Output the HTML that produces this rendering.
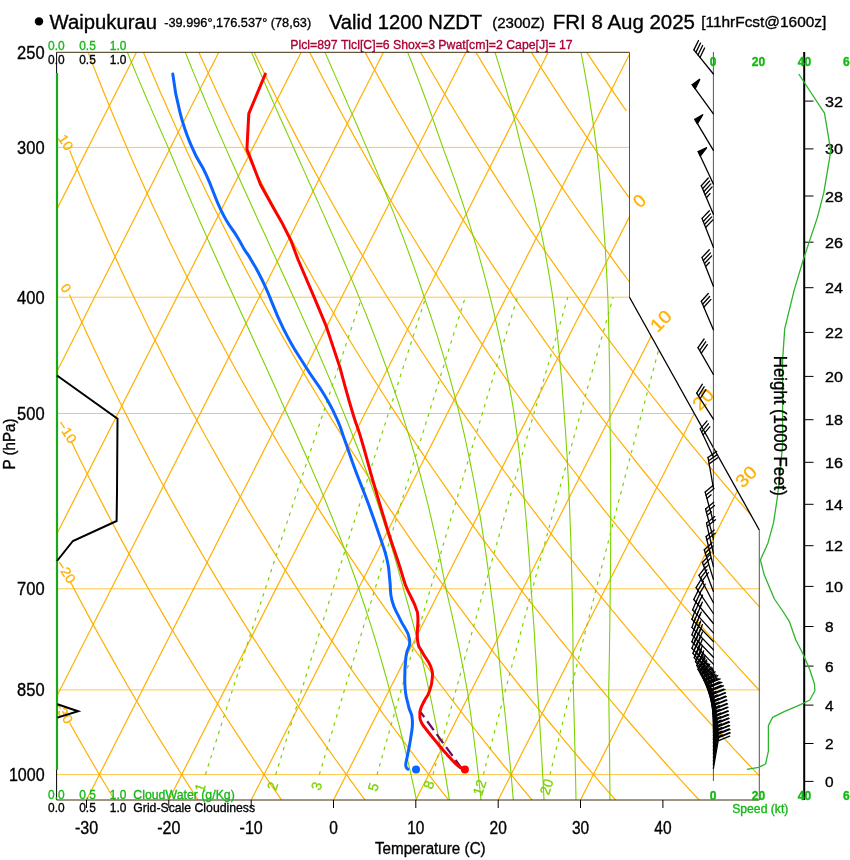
<!DOCTYPE html>
<html><head><meta charset="utf-8"><style>
html,body{margin:0;padding:0;background:#fff;}
svg{display:block;}
text{font-family:"Liberation Sans",sans-serif;}
svg{will-change:transform;}
</style></head><body>
<svg width="850" height="860" viewBox="0 0 850 860">
<defs><clipPath id="c"><polygon points="56.6,52.3 629.5,52.3 629.5,297.3 759.3,530 759.3,800 56.6,800"/></clipPath></defs>
<g stroke="#ffc64a" stroke-width="1" fill="none"><line x1="56.6" y1="147.4" x2="629.5" y2="147.4"/><line x1="56.6" y1="297.2" x2="629.5" y2="297.2"/><line x1="56.6" y1="413.5" x2="694.3" y2="413.5"/><line x1="56.6" y1="588.8" x2="759.3" y2="588.8"/><line x1="56.6" y1="689.9" x2="759.3" y2="689.9"/><line x1="56.6" y1="774.6" x2="759.3" y2="774.6"/></g>
<g stroke="#ffb000" stroke-width="1.2" fill="none" clip-path="url(#c)"><line x1="-242.9" y1="800" x2="136.5" y2="52.3"/><line x1="-160.5" y1="800" x2="218.8" y2="52.3"/><line x1="-78.2" y1="800" x2="301.2" y2="52.3"/><line x1="4.1" y1="800" x2="383.5" y2="52.3"/><line x1="86.5" y1="800" x2="465.9" y2="52.3"/><line x1="168.8" y1="800" x2="548.2" y2="52.3"/><line x1="251.2" y1="800" x2="630.5" y2="52.3"/><line x1="333.5" y1="800" x2="712.9" y2="52.3"/><line x1="415.8" y1="800" x2="795.2" y2="52.3"/><line x1="498.2" y1="800" x2="877.6" y2="52.3"/><line x1="580.5" y1="800" x2="959.9" y2="52.3"/></g>
<g stroke="#ffb000" stroke-width="1.2" fill="none" clip-path="url(#c)"><polyline points="114.6,800 107,787.3 99.4,774.7 92,762 84.6,749.3 77.4,736.6 70.3,724 69.4,722.5"/><polyline points="198.1,800 189.9,787.3 181.8,774.7 173.8,762 165.9,749.3 158,736.6 150.3,724 142.7,711.3 135.2,698.6 127.8,686 120.5,673.3 113.3,660.6 106.1,647.9 99.1,635.3 92.1,622.6 85.3,609.9 78.5,597.3 71.9,584.6 70.4,581.7"/><polyline points="281.6,800 272.8,787.3 264.1,774.7 255.5,762 247.1,749.3 238.7,736.6 230.4,724 222.3,711.3 214.2,698.6 206.2,686 198.4,673.3 190.6,660.6 182.9,647.9 175.4,635.3 167.9,622.6 160.5,609.9 153.2,597.3 146.1,584.6 139,571.9 132,559.2 125.1,546.6 118.2,533.9 111.5,521.2 104.9,508.6 98.4,495.9 91.9,483.2 85.5,470.5 79.3,457.9 73.1,445.2 71.3,441.5"/><polyline points="365.1,800 355.7,787.3 346.5,774.7 337.3,762 328.3,749.3 319.3,736.6 310.5,724 301.8,711.3 293.2,698.6 284.7,686 276.3,673.3 268,660.6 259.8,647.9 251.6,635.3 243.6,622.6 235.7,609.9 227.9,597.3 220.2,584.6 212.6,571.9 205.1,559.2 197.7,546.6 190.4,533.9 183.2,521.2 176.1,508.6 169,495.9 162.1,483.2 155.2,470.5 148.5,457.9 141.8,445.2 135.3,432.5 128.8,419.9 122.4,407.2 116.1,394.5 109.9,381.9 103.7,369.2 97.7,356.5 91.7,343.8 85.9,331.2 80.1,318.5 74.4,305.8 69.4,294.6"/><polyline points="448.6,800 438.6,787.3 428.8,774.7 419.1,762 409.5,749.3 400,736.6 390.6,724 381.3,711.3 372.2,698.6 363.1,686 354.1,673.3 345.3,660.6 336.6,647.9 327.9,635.3 319.4,622.6 311,609.9 302.7,597.3 294.4,584.6 286.3,571.9 278.3,559.2 270.4,546.6 262.6,533.9 254.8,521.2 247.2,508.6 239.7,495.9 232.3,483.2 224.9,470.5 217.7,457.9 210.6,445.2 203.5,432.5 196.6,419.9 189.7,407.2 182.9,394.5 176.2,381.9 169.7,369.2 163.2,356.5 156.8,343.8 150.4,331.2 144.2,318.5 138.1,305.8 132,293.2 126,280.5 120.1,267.8 114.3,255.1 108.6,242.5 103,229.8 97.5,217.1 92,204.5 86.6,191.8 81.3,179.1 76.1,166.4 71,153.8 69.6,150.4"/><polyline points="532.1,800 521.5,787.3 511.1,774.7 500.9,762 490.7,749.3 480.6,736.6 470.7,724 460.9,711.3 451.1,698.6 441.5,686 432,673.3 422.7,660.6 413.4,647.9 404.2,635.3 395.2,622.6 386.2,609.9 377.4,597.3 368.6,584.6 360,571.9 351.5,559.2 343,546.6 334.7,533.9 326.5,521.2 318.4,508.6 310.4,495.9 302.4,483.2 294.6,470.5 286.9,457.9 279.3,445.2 271.8,432.5 264.3,419.9 257,407.2 249.8,394.5 242.6,381.9 235.6,369.2 228.6,356.5 221.8,343.8 215,331.2 208.3,318.5 201.7,305.8 195.2,293.2 188.8,280.5 182.5,267.8 176.3,255.1 170.1,242.5 164.1,229.8 158.1,217.1 152.2,204.5 146.4,191.8 140.7,179.1 135.1,166.4 129.5,153.8 124.1,141.1 118.7,128.4 113.4,115.8 108.2,103.1 103,90.4 98,77.7 93,65.1 88.1,52.4"/><polyline points="615.6,800 604.5,787.3 593.5,774.7 582.6,762 571.9,749.3 561.3,736.6 550.8,724 540.4,711.3 530.1,698.6 520,686 509.9,673.3 500,660.6 490.2,647.9 480.5,635.3 470.9,622.6 461.4,609.9 452.1,597.3 442.8,584.6 433.7,571.9 424.6,559.2 415.7,546.6 406.9,533.9 398.2,521.2 389.5,508.6 381,495.9 372.6,483.2 364.3,470.5 356.1,457.9 348,445.2 340,432.5 332.1,419.9 324.3,407.2 316.6,394.5 309,381.9 301.5,369.2 294.1,356.5 286.8,343.8 279.6,331.2 272.4,318.5 265.4,305.8 258.5,293.2 251.6,280.5 244.9,267.8 238.2,255.1 231.6,242.5 225.2,229.8 218.8,217.1 212.5,204.5 206.2,191.8 200.1,179.1 194.1,166.4 188.1,153.8 182.3,141.1 176.5,128.4 170.8,115.8 165.2,103.1 159.6,90.4 154.2,77.7 148.8,65.1 143.5,52.4"/><polyline points="699.1,800 687.4,787.3 675.8,774.7 664.4,762 653.1,749.3 641.9,736.6 630.9,724 619.9,711.3 609.1,698.6 598.4,686 587.8,673.3 577.4,660.6 567,647.9 556.8,635.3 546.7,622.6 536.7,609.9 526.8,597.3 517,584.6 507.4,571.9 497.8,559.2 488.4,546.6 479,533.9 469.8,521.2 460.7,508.6 451.7,495.9 442.8,483.2 434,470.5 425.3,457.9 416.8,445.2 408.3,432.5 399.9,419.9 391.6,407.2 383.5,394.5 375.4,381.9 367.4,369.2 359.6,356.5 351.8,343.8 344.1,331.2 336.6,318.5 329.1,305.8 321.7,293.2 314.4,280.5 307.2,267.8 300.1,255.1 293.1,242.5 286.2,229.8 279.4,217.1 272.7,204.5 266.1,191.8 259.5,179.1 253.1,166.4 246.7,153.8 240.4,141.1 234.2,128.4 228.1,115.8 222.1,103.1 216.2,90.4 210.4,77.7 204.6,65.1 198.9,52.4"/><polyline points="782.6,800 770.3,787.3 758.2,774.7 746.2,762 734.3,749.3 722.6,736.6 710.9,724 699.4,711.3 688.1,698.6 676.8,686 665.7,673.3 654.7,660.6 643.8,647.9 633.1,635.3 622.4,622.6 611.9,609.9 601.5,597.3 591.2,584.6 581,571.9 571,559.2 561,546.6 551.2,533.9 541.5,521.2 531.9,508.6 522.4,495.9 513,483.2 503.7,470.5 494.5,457.9 485.5,445.2 476.5,432.5 467.7,419.9 459,407.2 450.3,394.5 441.8,381.9 433.4,369.2 425,356.5 416.8,343.8 408.7,331.2 400.7,318.5 392.8,305.8 384.9,293.2 377.2,280.5 369.6,267.8 362.1,255.1 354.6,242.5 347.3,229.8 340.1,217.1 332.9,204.5 325.9,191.8 318.9,179.1 312,166.4 305.3,153.8 298.6,141.1 292,128.4 285.5,115.8 279.1,103.1 272.8,90.4 266.5,77.7 260.4,65.1 254.3,52.4"/><polyline points="866,800 853.2,787.3 840.5,774.7 827.9,762 815.5,749.3 803.2,736.6 791,724 779,711.3 767.1,698.6 755.3,686 743.6,673.3 732.1,660.6 720.6,647.9 709.4,635.3 698.2,622.6 687.1,609.9 676.2,597.3 665.4,584.6 654.7,571.9 644.1,559.2 633.7,546.6 623.4,533.9 613.1,521.2 603,508.6 593,495.9 583.2,483.2 573.4,470.5 563.8,457.9 554.2,445.2 544.8,432.5 535.5,419.9 526.3,407.2 517.2,394.5 508.2,381.9 499.3,369.2 490.5,356.5 481.8,343.8 473.3,331.2 464.8,318.5 456.4,305.8 448.2,293.2 440,280.5 431.9,267.8 424,255.1 416.1,242.5 408.4,229.8 400.7,217.1 393.1,204.5 385.7,191.8 378.3,179.1 371,166.4 363.9,153.8 356.8,141.1 349.8,128.4 342.9,115.8 336.1,103.1 329.4,90.4 322.7,77.7 316.2,65.1 309.8,52.4"/><polyline points="949.5,800 936.1,787.3 922.9,774.7 909.7,762 896.7,749.3 883.8,736.6 871.1,724 858.5,711.3 846,698.6 833.7,686 821.5,673.3 809.4,660.6 797.5,647.9 785.6,635.3 773.9,622.6 762.4,609.9 750.9,597.3 739.6,584.6 728.4,571.9 717.3,559.2 706.4,546.6 695.5,533.9 684.8,521.2 674.2,508.6 663.7,495.9 653.4,483.2 643.1,470.5 633,457.9 623,445.2 613,432.5 603.3,419.9 593.6,407.2 584,394.5 574.6,381.9 565.2,369.2 556,356.5 546.8,343.8 537.8,331.2 528.9,318.5 520.1,305.8 511.4,293.2 502.8,280.5 494.3,267.8 485.9,255.1 477.6,242.5 469.4,229.8 461.4,217.1 453.4,204.5 445.5,191.8 437.7,179.1 430,166.4 422.4,153.8 414.9,141.1 407.6,128.4 400.3,115.8 393,103.1 385.9,90.4 378.9,77.7 372,65.1 365.2,52.4"/><polyline points="1033,800 1019,787.3 1005.2,774.7 991.5,762 977.9,749.3 964.5,736.6 951.2,724 938,711.3 925,698.6 912.1,686 899.4,673.3 886.8,660.6 874.3,647.9 861.9,635.3 849.7,622.6 837.6,609.9 825.6,597.3 813.8,584.6 802.1,571.9 790.5,559.2 779,546.6 767.7,533.9 756.5,521.2 745.4,508.6 734.4,495.9 723.5,483.2 712.8,470.5 702.2,457.9 691.7,445.2 681.3,432.5 671,419.9 660.9,407.2 650.9,394.5 640.9,381.9 631.1,369.2 621.4,356.5 611.9,343.8 602.4,331.2 593,318.5 583.8,305.8 574.6,293.2 565.6,280.5 556.7,267.8 547.8,255.1 539.1,242.5 530.5,229.8 522,217.1 513.6,204.5 505.3,191.8 497.1,179.1 489,166.4 481,153.8 473.1,141.1 465.3,128.4 457.6,115.8 450,103.1 442.5,90.4 435.1,77.7 427.8,65.1 420.6,52.4"/><polyline points="1116.5,800 1102,787.3 1087.5,774.7 1073.3,762 1059.1,749.3 1045.1,736.6 1031.3,724 1017.6,711.3 1004,698.6 990.6,686 977.3,673.3 964.1,660.6 951.1,647.9 938.2,635.3 925.4,622.6 912.8,609.9 900.3,597.3 888,584.6 875.7,571.9 863.6,559.2 851.7,546.6 839.8,533.9 828.1,521.2 816.5,508.6 805.1,495.9 793.7,483.2 782.5,470.5 771.4,457.9 760.4,445.2 749.6,432.5 738.8,419.9 728.2,407.2 717.7,394.5 707.3,381.9 697.1,369.2 686.9,356.5 676.9,343.8 667,331.2 657.1,318.5 647.5,305.8 637.9,293.2 628.4,280.5 619,267.8 609.8,255.1 600.6,242.5 591.6,229.8 582.7,217.1 573.8,204.5 565.1,191.8 556.5,179.1 548,166.4 539.6,153.8 531.3,141.1 523.1,128.4 515,115.8 507,103.1 499.1,90.4 491.3,77.7 483.6,65.1 476,52.4"/><polyline points="1200,800 1184.9,787.3 1169.9,774.7 1155,762 1140.3,749.3 1125.8,736.6 1111.4,724 1097.1,711.3 1083,698.6 1069,686 1055.2,673.3 1041.5,660.6 1027.9,647.9 1014.5,635.3 1001.2,622.6 988.1,609.9 975,597.3 962.2,584.6 949.4,571.9 936.8,559.2 924.3,546.6 912,533.9 899.8,521.2 887.7,508.6 875.7,495.9 863.9,483.2 852.2,470.5 840.6,457.9 829.1,445.2 817.8,432.5 806.6,419.9 795.5,407.2 784.6,394.5 773.7,381.9 763,369.2 752.4,356.5 741.9,343.8 731.5,331.2 721.3,318.5 711.1,305.8 701.1,293.2 691.2,280.5 681.4,267.8 671.7,255.1 662.1,242.5 652.7,229.8 643.3,217.1 634.1,204.5 624.9,191.8 615.9,179.1 607,166.4 598.2,153.8 589.5,141.1 580.9,128.4 572.4,115.8 564,103.1 555.7,90.4 547.5,77.7 539.4,65.1 531.4,52.4"/><polyline points="626.4,111 620.9,103.1 612.3,90.4 603.7,77.7 595.2,65.1 586.8,52.4"/><polyline points="1367,800 1350.7,787.3 1334.6,774.7 1318.6,762 1302.7,749.3 1287.1,736.6 1271.5,724 1256.2,711.3 1240.9,698.6 1225.9,686 1210.9,673.3 1196.2,660.6 1181.5,647.9 1167.1,635.3 1152.7,622.6 1138.5,609.9 1124.5,597.3 1110.6,584.6 1096.8,571.9 1083.2,559.2 1069.7,546.6 1056.3,533.9 1043.1,521.2 1030,508.6 1017.1,495.9 1004.3,483.2 991.6,470.5 979,457.9 966.6,445.2 954.3,432.5 942.2,419.9 930.1,407.2 918.3,394.5 906.5,381.9 894.8,369.2 883.3,356.5 871.9,343.8 860.6,331.2 849.5,318.5 838.5,305.8 827.6,293.2 816.8,280.5 806.1,267.8 795.6,255.1 785.1,242.5 774.8,229.8 764.6,217.1 754.5,204.5 744.6,191.8 734.7,179.1 725,166.4 715.3,153.8 705.8,141.1 696.4,128.4 687.1,115.8 677.9,103.1 668.8,90.4 659.9,77.7 651,65.1 642.2,52.4"/><polyline points="1450.5,800 1433.6,787.3 1416.9,774.7 1400.4,762 1384,749.3 1367.7,736.6 1351.6,724 1335.7,711.3 1319.9,698.6 1304.3,686 1288.8,673.3 1273.5,660.6 1258.4,647.9 1243.3,635.3 1228.5,622.6 1213.7,609.9 1199.2,597.3 1184.7,584.6 1170.5,571.9 1156.3,559.2 1142.3,546.6 1128.5,533.9 1114.7,521.2 1101.2,508.6 1087.7,495.9 1074.4,483.2 1061.3,470.5 1048.2,457.9 1035.3,445.2 1022.6,432.5 1010,419.9 997.5,407.2 985.1,394.5 972.9,381.9 960.8,369.2 948.8,356.5 936.9,343.8 925.2,331.2 913.6,318.5 902.1,305.8 890.8,293.2 879.6,280.5 868.5,267.8 857.5,255.1 846.6,242.5 835.9,229.8 825.3,217.1 814.8,204.5 804.4,191.8 794.1,179.1 784,166.4 773.9,153.8 764,141.1 754.2,128.4 744.5,115.8 734.9,103.1 725.4,90.4 716,77.7 706.8,65.1 697.6,52.4"/><polyline points="1534,800 1516.6,787.3 1499.3,774.7 1482.1,762 1465.2,749.3 1448.4,736.6 1431.7,724 1415.2,711.3 1398.9,698.6 1382.7,686 1366.7,673.3 1350.9,660.6 1335.2,647.9 1319.6,635.3 1304.2,622.6 1289,609.9 1273.9,597.3 1258.9,584.6 1244.1,571.9 1229.5,559.2 1215,546.6 1200.6,533.9 1186.4,521.2 1172.3,508.6 1158.4,495.9 1144.6,483.2 1131,470.5 1117.5,457.9 1104.1,445.2 1090.8,432.5 1077.7,419.9 1064.8,407.2 1051.9,394.5 1039.3,381.9 1026.7,369.2 1014.3,356.5 1002,343.8 989.8,331.2 977.7,318.5 965.8,305.8 954,293.2 942.4,280.5 930.8,267.8 919.4,255.1 908.1,242.5 897,229.8 885.9,217.1 875,204.5 864.2,191.8 853.5,179.1 842.9,166.4 832.5,153.8 822.2,141.1 811.9,128.4 801.8,115.8 791.9,103.1 782,90.4 772.2,77.7 762.6,65.1 753.1,52.4"/><polyline points="1617.5,800 1599.5,787.3 1581.6,774.7 1563.9,762 1546.4,749.3 1529,736.6 1511.8,724 1494.8,711.3 1477.9,698.6 1461.2,686 1444.6,673.3 1428.2,660.6 1412,647.9 1395.9,635.3 1380,622.6 1364.2,609.9 1348.6,597.3 1333.1,584.6 1317.8,571.9 1302.7,559.2 1287.6,546.6 1272.8,533.9 1258.1,521.2 1243.5,508.6 1229.1,495.9 1214.8,483.2 1200.7,470.5 1186.7,457.9 1172.8,445.2 1159.1,432.5 1145.5,419.9 1132.1,407.2 1118.8,394.5 1105.6,381.9 1092.6,369.2 1079.7,356.5 1067,343.8 1054.3,331.2 1041.9,318.5 1029.5,305.8 1017.3,293.2 1005.2,280.5 993.2,267.8 981.3,255.1 969.6,242.5 958,229.8 946.6,217.1 935.2,204.5 924,191.8 912.9,179.1 901.9,166.4 891.1,153.8 880.3,141.1 869.7,128.4 859.2,115.8 848.8,103.1 838.6,90.4 828.4,77.7 818.4,65.1 808.5,52.4"/><polyline points="1701,800 1682.4,787.3 1663.9,774.7 1645.7,762 1627.6,749.3 1609.6,736.6 1591.9,724 1574.3,711.3 1556.9,698.6 1539.6,686 1522.5,673.3 1505.6,660.6 1488.8,647.9 1472.2,635.3 1455.7,622.6 1439.4,609.9 1423.3,597.3 1407.3,584.6 1391.5,571.9 1375.8,559.2 1360.3,546.6 1344.9,533.9 1329.7,521.2 1314.7,508.6 1299.7,495.9 1285,483.2 1270.3,470.5 1255.9,457.9 1241.5,445.2 1227.4,432.5 1213.3,419.9 1199.4,407.2 1185.6,394.5 1172,381.9 1158.5,369.2 1145.2,356.5 1132,343.8 1118.9,331.2 1106,318.5 1093.2,305.8 1080.5,293.2 1068,280.5 1055.6,267.8 1043.3,255.1 1031.1,242.5 1019.1,229.8 1007.2,217.1 995.5,204.5 983.8,191.8 972.3,179.1 960.9,166.4 949.7,153.8 938.5,141.1 927.5,128.4 916.6,115.8 905.8,103.1 895.2,90.4 884.6,77.7 874.2,65.1 863.9,52.4"/><polyline points="1784.5,800 1765.3,787.3 1746.3,774.7 1727.4,762 1708.8,749.3 1690.3,736.6 1672,724 1653.8,711.3 1635.8,698.6 1618,686 1600.4,673.3 1582.9,660.6 1565.6,647.9 1548.5,635.3 1531.5,622.6 1514.7,609.9 1498,597.3 1481.5,584.6 1465.2,571.9 1449,559.2 1433,546.6 1417.1,533.9 1401.4,521.2 1385.8,508.6 1370.4,495.9 1355.2,483.2 1340,470.5 1325.1,457.9 1310.3,445.2 1295.6,432.5 1281.1,419.9 1266.7,407.2 1252.5,394.5 1238.4,381.9 1224.5,369.2 1210.7,356.5 1197,343.8 1183.5,331.2 1170.1,318.5 1156.8,305.8 1143.7,293.2 1130.8,280.5 1117.9,267.8 1105.2,255.1 1092.6,242.5 1080.2,229.8 1067.9,217.1 1055.7,204.5 1043.6,191.8 1031.7,179.1 1019.9,166.4 1008.2,153.8 996.7,141.1 985.3,128.4 974,115.8 962.8,103.1 951.7,90.4 940.8,77.7 930,65.1 919.3,52.4"/><polyline points="1868,800 1848.2,787.3 1828.6,774.7 1809.2,762 1790,749.3 1770.9,736.6 1752.1,724 1733.4,711.3 1714.8,698.6 1696.5,686 1678.3,673.3 1660.3,660.6 1642.4,647.9 1624.8,635.3 1607.2,622.6 1589.9,609.9 1572.7,597.3 1555.7,584.6 1538.9,571.9 1522.2,559.2 1505.6,546.6 1489.3,533.9 1473,521.2 1457,508.6 1441.1,495.9 1425.3,483.2 1409.7,470.5 1394.3,457.9 1379,445.2 1363.9,432.5 1348.9,419.9 1334,407.2 1319.3,394.5 1304.8,381.9 1290.4,369.2 1276.1,356.5 1262,343.8 1248,331.2 1234.2,318.5 1220.5,305.8 1207,293.2 1193.6,280.5 1180.3,267.8 1167.1,255.1 1154.1,242.5 1141.3,229.8 1128.5,217.1 1115.9,204.5 1103.4,191.8 1091.1,179.1 1078.9,166.4 1066.8,153.8 1054.9,141.1 1043,128.4 1031.3,115.8 1019.8,103.1 1008.3,90.4 997,77.7 985.8,65.1 974.7,52.4"/><polyline points="1951.5,800 1931.1,787.3 1911,774.7 1891,762 1871.2,749.3 1851.6,736.6 1832.1,724 1812.9,711.3 1793.8,698.6 1774.9,686 1756.2,673.3 1737.6,660.6 1719.2,647.9 1701,635.3 1683,622.6 1665.1,609.9 1647.4,597.3 1629.9,584.6 1612.5,571.9 1595.3,559.2 1578.3,546.6 1561.4,533.9 1544.7,521.2 1528.1,508.6 1511.7,495.9 1495.5,483.2 1479.4,470.5 1463.5,457.9 1447.7,445.2 1432.1,432.5 1416.7,419.9 1401.3,407.2 1386.2,394.5 1371.2,381.9 1356.3,369.2 1341.6,356.5 1327,343.8 1312.6,331.2 1298.3,318.5 1284.2,305.8 1270.2,293.2 1256.3,280.5 1242.6,267.8 1229.1,255.1 1215.6,242.5 1202.3,229.8 1189.2,217.1 1176.1,204.5 1163.3,191.8 1150.5,179.1 1137.9,166.4 1125.4,153.8 1113,141.1 1100.8,128.4 1088.7,115.8 1076.7,103.1 1064.9,90.4 1053.2,77.7 1041.6,65.1 1030.1,52.4"/></g>
<g stroke="#7dd200" stroke-width="1.1" fill="none" clip-path="url(#c)"><polyline points="416.5,800 414.2,789.2 411.8,778.3 409.4,767.5 406.8,756.7 404.2,745.8 401.5,735 398.8,724.2 395.9,713.3 393,702.5 390,691.6 387.1,680.8 384.1,670 381,659.1 377.9,648.3 374.6,637.5 371.3,626.6 367.8,615.8 364.3,605 360.6,594.1 356.9,583.3 353.1,572.5 349.2,561.6 345.2,550.8 341,540 336.8,529.1 332.5,518.3 328.1,507.5 323.7,496.6 319.1,485.8 314.4,475 309.7,464.1 304.9,453.3 300.1,442.5 295.2,431.6 290.2,420.8 285.2,409.9 280.4,399.1 275.6,388.3 270.7,377.4 265.8,366.6 260.8,355.8 255.9,344.9 250.9,334.1 246,323.3 241,312.4 236,301.6 231.1,290.8 226.1,279.9 221.2,269.1 216.3,258.3 211.4,247.4 206.6,236.6 201.8,225.8 197,214.9 192.3,204.1 187.6,193.3 182.9,182.4 178.3,171.6 173.8,160.8 169.2,149.9 164.5,139.1 159.7,128.2 154.9,117.4 150.2,106.6 145.5,95.7 140.9,84.9 136.4,74.1 131.8,63.2 127.4,52.4 118.5,30.7"/><polyline points="449.4,800 447.7,789.2 445.9,778.3 444,767.5 442.1,756.7 440.1,745.8 438.1,735 436,724.2 433.8,713.3 431.6,702.5 429.3,691.6 426.9,680.8 424.5,670 422,659.1 419.4,648.3 416.7,637.5 413.9,626.6 411,615.8 408.1,605 405,594.1 402,583.3 399,572.5 396,561.6 392.8,550.8 389.5,540 386.1,529.1 382.6,518.3 379.1,507.5 375.4,496.6 371.6,485.8 367.7,475 363.7,464.1 359.7,453.3 355.5,442.5 351.2,431.6 346.9,420.8 342.5,409.9 338.1,399.1 333.6,388.3 329,377.4 324.4,366.6 319.7,355.8 315,344.9 310.2,334.1 305.3,323.3 300.5,312.4 295.5,301.6 290.6,290.8 285.7,279.9 280.7,269.1 275.7,258.3 270.7,247.4 265.8,236.6 260.8,225.8 255.8,214.9 250.9,204.1 246,193.3 241.1,182.4 236.2,171.6 231.3,160.8 226.5,149.9 221.8,139.1 217,128.2 212.4,117.4 207.7,106.6 203.2,95.7 198.6,84.9 194.1,74.1 189.7,63.2 185.3,52.4 176.5,30.7"/><polyline points="481,800 479.9,789.2 478.7,778.3 477.4,767.5 476.2,756.7 474.8,745.8 473.5,735 472,724.2 470.6,713.3 469,702.5 467.5,691.6 465.5,680.8 463.5,670 461.3,659.1 459.2,648.3 456.9,637.5 454.6,626.6 452.2,615.8 449.7,605 447.2,594.1 444.9,583.3 442.8,572.5 440.7,561.6 438.5,550.8 436.1,540 433.7,529.1 431.2,518.3 428.7,507.5 426,496.6 423.2,485.8 420.3,475 417.3,464.1 414.2,453.3 411,442.5 407.7,431.6 404.3,420.8 400.9,409.9 397.3,399.1 393.6,388.3 389.8,377.4 386,366.6 382,355.8 378,344.9 373.8,334.1 369.6,323.3 365.3,312.4 360.9,301.6 356.4,290.8 351.9,279.9 347.3,269.1 342.7,258.3 338,247.4 333.3,236.6 328.5,225.8 323.7,214.9 318.9,204.1 314.1,193.3 309.2,182.4 304.4,171.6 299.5,160.8 294.6,149.9 289.8,139.1 284.9,128.2 280,117.4 275.2,106.6 270.4,95.7 265.6,84.9 260.9,74.1 256.2,63.2 251.5,52.4 242.2,30.7"/><polyline points="513.3,800 512.4,789.2 511.4,778.3 510.4,767.5 509.4,756.7 508.3,745.8 507.2,735 506.1,724.2 505,713.3 503.7,702.5 502.5,691.6 501.4,680.8 500.3,670 499.2,659.1 498,648.3 496.8,637.5 495.5,626.6 494.2,615.8 492.8,605 491.3,594.1 489.9,583.3 488.5,572.5 487,561.6 485.5,550.8 483.9,540 482.2,529.1 480.5,518.3 478.6,507.5 476.7,496.6 474.8,485.8 472.7,475 470.5,464.1 468.3,453.3 466,442.5 463.6,431.6 461,420.8 458.4,409.9 455.6,399.1 452.7,388.3 449.7,377.4 446.6,366.6 443.4,355.8 440.1,344.9 436.7,334.1 433.2,323.3 429.5,312.4 425.8,301.6 422.1,290.8 418.5,279.9 414.7,269.1 410.8,258.3 406.8,247.4 402.8,236.6 398.6,225.8 394.4,214.9 390.1,204.1 385.7,193.3 381.3,182.4 376.8,171.6 372.2,160.8 367.6,149.9 363,139.1 358.3,128.2 353.6,117.4 348.8,106.6 344.1,95.7 339.3,84.9 334.5,74.1 329.8,63.2 325,52.4 315.5,30.7"/><polyline points="544,800 543.5,789.2 542.9,778.3 542.3,767.5 541.7,756.7 541.1,745.8 540.4,735 539.8,724.2 539.1,713.3 538.4,702.5 537.6,691.6 537,680.8 536.5,670 535.9,659.1 535.2,648.3 534.6,637.5 533.9,626.6 533.1,615.8 532.3,605 531.5,594.1 530.8,583.3 530.1,572.5 529.4,561.6 528.6,550.8 527.8,540 526.9,529.1 526,518.3 525,507.5 524,496.6 522.9,485.8 521.8,475 520.6,464.1 519.3,453.3 518,442.5 516.6,431.6 515.1,420.8 513.5,409.9 511.7,399.1 509.7,388.3 507.7,377.4 505.6,366.6 503.4,355.8 501.2,344.9 498.8,334.1 496.4,323.3 493.8,312.4 491.2,301.6 488.5,290.8 485.6,279.9 482.7,269.1 479.7,258.3 476.6,247.4 473.3,236.6 470,225.8 466.5,214.9 463,204.1 459.3,193.3 455.6,182.4 451.7,171.6 447.7,160.8 443.7,149.9 439.9,139.1 436.1,128.2 432.3,117.4 428.4,106.6 424.4,95.7 420.3,84.9 416.2,74.1 412,63.2 407.7,52.4 399.2,30.7"/><polyline points="576,800 575.8,789.2 575.6,778.3 575.3,767.5 575.1,756.7 574.8,745.8 574.6,735 574.3,724.2 574,713.3 573.7,702.5 573.4,691.6 573.3,680.8 573.2,670 573.1,659.1 573,648.3 572.9,637.5 572.8,626.6 572.6,615.8 572.4,605 572.2,594.1 572,583.3 571.7,572.5 571.4,561.6 571.1,550.8 570.8,540 570.4,529.1 570,518.3 569.6,507.5 569.1,496.6 568.6,485.8 568.1,475 567.5,464.1 566.9,453.3 566.2,442.5 565.5,431.6 564.7,420.8 563.9,409.9 563.1,399.1 562.3,388.3 561.4,377.4 560.4,366.6 559.4,355.8 558.3,344.9 557.2,334.1 556,323.3 554.7,312.4 553.4,301.6 551.8,290.8 550,279.9 548.1,269.1 546.2,258.3 544.2,247.4 542.1,236.6 539.9,225.8 537.6,214.9 535.3,204.1 532.8,193.3 530.2,182.4 527.6,171.6 524.8,160.8 522,149.9 519.3,139.1 516.7,128.2 513.9,117.4 511,106.6 508,95.7 504.9,84.9 501.7,74.1 498.4,63.2 495,52.4 488.2,30.7"/><polyline points="610,800 609.9,789.2 609.8,778.3 609.7,767.5 609.6,756.7 609.4,745.8 609.3,735 609.2,724.2 609,713.3 608.9,702.5 608.7,691.6 608.9,680.8 609.1,670 609.3,659.1 609.5,648.3 609.6,637.5 609.8,626.6 609.9,615.8 610.1,605 610.2,594.1 610.3,583.3 610.4,572.5 610.5,561.6 610.6,550.8 610.7,540 610.7,529.1 610.7,518.3 610.7,507.5 610.7,496.6 610.7,485.8 610.6,475 610.6,464.1 610.5,453.3 610.3,442.5 610.2,431.6 610,420.8 609.9,409.9 609.8,399.1 609.8,388.3 609.7,377.4 609.5,366.6 609.3,355.8 609.1,344.9 608.9,334.1 608.6,323.3 608.3,312.4 608,301.6 607.5,290.8 607,279.9 606.4,269.1 605.8,258.3 605.2,247.4 604.5,236.6 603.7,225.8 602.9,214.9 602,204.1 601.1,193.3 600.1,182.4 599.1,171.6 598,160.8 596.8,149.9 595.4,139.1 593.9,128.2 592.3,117.4 590.6,106.6 588.9,95.7 587,84.9 585.1,74.1 583.1,63.2 581,52.4 576.8,30.7"/></g>
<g stroke="#7dd200" stroke-width="1.2" fill="none" stroke-dasharray="3.5,5" clip-path="url(#c)"><polyline points="205.4,774.6 209.6,761.4 213.9,747.9 218.4,734 222.9,719.7 227.7,705 232.5,689.9 237.5,674.4 242.7,658.3 248.1,641.8 253.6,624.7 259.3,607.1 265.3,588.8 271.5,569.8 277.9,550.2 284.6,529.7 291.6,508.5 298.9,486.3 306.5,463.1 314.6,438.9 323,413.5 331.9,386.8 341.3,358.6 351.2,328.8 361.8,297.2"/><polyline points="275.7,774.6 279.8,761.4 283.9,747.9 288.1,734 292.5,719.7 297,705 301.7,689.9 306.5,674.4 311.4,658.3 316.6,641.8 321.9,624.7 327.4,607.1 333.1,588.8 339,569.8 345.2,550.2 351.6,529.7 358.3,508.5 365.3,486.3 372.6,463.1 380.3,438.9 388.4,413.5 397,386.8 406,358.6 415.6,328.8 425.8,297.2"/><polyline points="319.3,774.6 323.3,761.4 327.3,747.9 331.4,734 335.6,719.7 340,705 344.5,689.9 349.2,674.4 354,658.3 359,641.8 364.1,624.7 369.5,607.1 375,588.8 380.8,569.8 386.8,550.2 393,529.7 399.5,508.5 406.3,486.3 413.5,463.1 421,438.9 428.9,413.5 437.2,386.8 446,358.6 455.3,328.8 465.3,297.2"/><polyline points="377,774.6 380.8,761.4 384.6,747.9 388.6,734 392.6,719.7 396.8,705 401.2,689.9 405.6,674.4 410.3,658.3 415,641.8 420,624.7 425.1,607.1 430.4,588.8 436,569.8 441.7,550.2 447.7,529.7 454,508.5 460.6,486.3 467.5,463.1 474.7,438.9 482.3,413.5 490.3,386.8 498.8,358.6 507.8,328.8 517.4,297.2"/><polyline points="433,774.6 436.5,761.4 440.2,747.9 444,734 447.9,719.7 451.9,705 456,689.9 460.3,674.4 464.7,658.3 469.3,641.8 474.1,624.7 479,607.1 484.1,588.8 489.4,569.8 494.9,550.2 500.7,529.7 506.7,508.5 513.1,486.3 519.7,463.1 526.6,438.9 533.9,413.5 541.7,386.8 549.9,358.6 558.6,328.8 567.8,297.2"/><polyline points="483.4,774.6 486.8,761.4 490.4,747.9 494,734 497.7,719.7 501.6,705 505.5,689.9 509.6,674.4 513.9,658.3 518.3,641.8 522.8,624.7 527.6,607.1 532.5,588.8 537.6,569.8 542.9,550.2 548.5,529.7 554.3,508.5 560.3,486.3 566.7,463.1 573.4,438.9 580.5,413.5 587.9,386.8 595.8,358.6 604.2,328.8 613.2,297.2"/><polyline points="550,774.6 553.2,761.4 556.5,747.9 559.9,734 563.4,719.7 567,705 570.8,689.9 574.6,674.4 578.6,658.3 582.8,641.8 587.1,624.7 591.6,607.1 596.2,588.8 601,569.8 606.1,550.2 611.3,529.7 616.8,508.5 622.6,486.3 628.6,463.1 635,438.9 641.7,413.5 648.8,386.8 656.3,358.6 664.3,328.8 672.8,297.2"/></g>
<g fill="none" stroke-width="1">
<line x1="56.6" y1="52.3" x2="629.5" y2="52.3" stroke="#3c2e0a"/>
<line x1="56.6" y1="800" x2="759.3" y2="800" stroke="#3c2e0a"/>
<line x1="56.6" y1="52.3" x2="56.6" y2="800" stroke="#000"/>
<line x1="629.5" y1="52.3" x2="629.5" y2="297.3" stroke="#555"/>
<line x1="629.5" y1="297.3" x2="759.3" y2="530" stroke="#000" stroke-width="1.3"/>
<line x1="759.3" y1="530" x2="759.3" y2="800" stroke="#555"/>
</g>
<g stroke="#000" stroke-width="1"><line x1="86.5" y1="800" x2="86.5" y2="808"/><line x1="168.8" y1="800" x2="168.8" y2="808"/><line x1="251.2" y1="800" x2="251.2" y2="808"/><line x1="333.5" y1="800" x2="333.5" y2="808"/><line x1="415.8" y1="800" x2="415.8" y2="808"/><line x1="498.2" y1="800" x2="498.2" y2="808"/><line x1="580.5" y1="800" x2="580.5" y2="808"/><line x1="662.9" y1="800" x2="662.9" y2="808"/></g>
<g><text transform="translate(639.2,200.8) rotate(-45)" y="6.4" font-size="18" text-anchor="middle" fill="#ffb000" stroke="#ffb000" stroke-width="0.3">0</text><text transform="translate(660.8,320.7) rotate(-45)" y="6.4" font-size="18" text-anchor="middle" fill="#ffb000" stroke="#ffb000" stroke-width="0.3" textLength="22" lengthAdjust="spacingAndGlyphs">10</text><text transform="translate(702.9,399.3) rotate(-45)" y="6.4" font-size="18" text-anchor="middle" fill="#ffb000" stroke="#ffb000" stroke-width="0.3" textLength="22" lengthAdjust="spacingAndGlyphs">20</text><text transform="translate(745.9,476.4) rotate(-45)" y="6.4" font-size="18" text-anchor="middle" fill="#ffb000" stroke="#ffb000" stroke-width="0.3" textLength="22" lengthAdjust="spacingAndGlyphs">30</text><text transform="translate(65.9,142.4) rotate(57)" y="4.8" font-size="13.5" text-anchor="middle" fill="#ffb000" stroke="#ffb000" stroke-width="0.3" textLength="16" lengthAdjust="spacingAndGlyphs">10</text><text transform="translate(66.1,288.1) rotate(57)" y="4.8" font-size="13.5" text-anchor="middle" fill="#ffb000" stroke="#ffb000" stroke-width="0.3">0</text><text transform="translate(67.1,431.7) rotate(57)" y="4.8" font-size="13.5" text-anchor="middle" fill="#ffb000" stroke="#ffb000" stroke-width="0.3" textLength="24.5" lengthAdjust="spacingAndGlyphs">&#8722;10</text><text transform="translate(66,571.6) rotate(57)" y="4.8" font-size="13.5" text-anchor="middle" fill="#ffb000" stroke="#ffb000" stroke-width="0.3" textLength="24.5" lengthAdjust="spacingAndGlyphs">&#8722;20</text><text transform="translate(63.2,712.2) rotate(57)" y="4.8" font-size="13.5" text-anchor="middle" fill="#ffb000" stroke="#ffb000" stroke-width="0.3" textLength="24.5" lengthAdjust="spacingAndGlyphs">&#8722;30</text><text transform="translate(200,787.6) rotate(-72)" y="5" font-size="14" text-anchor="middle" fill="#7dd200" stroke="#7dd200" stroke-width="0.3">1</text><text transform="translate(272.4,786) rotate(-72)" y="5" font-size="14" text-anchor="middle" fill="#7dd200" stroke="#7dd200" stroke-width="0.3">2</text><text transform="translate(316.5,786) rotate(-72)" y="5" font-size="14" text-anchor="middle" fill="#7dd200" stroke="#7dd200" stroke-width="0.3">3</text><text transform="translate(373.3,787) rotate(-72)" y="5" font-size="14" text-anchor="middle" fill="#7dd200" stroke="#7dd200" stroke-width="0.3">5</text><text transform="translate(428.8,784.7) rotate(-72)" y="5" font-size="14" text-anchor="middle" fill="#7dd200" stroke="#7dd200" stroke-width="0.3">8</text><text transform="translate(479.5,787.5) rotate(-72)" y="5" font-size="14" text-anchor="middle" fill="#7dd200" stroke="#7dd200" stroke-width="0.3">12</text><text transform="translate(546.5,786.8) rotate(-72)" y="5" font-size="14" text-anchor="middle" fill="#7dd200" stroke="#7dd200" stroke-width="0.3">20</text></g>
<line x1="462" y1="768.9" x2="420" y2="711.3" stroke="#6e0a64" stroke-width="2.2" stroke-dasharray="11,5"/>
<path d="M265.3,74.1 C265.3,74.1 248.8,113.6 248.8,113.6 C248.8,113.6 246.9,149.4 246.9,149.4 C246.9,149.4 248.8,154.1 248.8,154.1 C248.8,154.1 260.6,184.7 260.6,184.7 C260.6,184.7 272.4,205.9 272.4,205.9 C272.4,205.9 281.8,222.4 281.8,222.4 C281.8,222.4 291.2,241.2 291.2,241.2 C291.2,241.2 298.2,260 298.2,260 C298.2,260 314.1,297.1 314.1,297.1 C314.1,297.1 325.9,325.3 325.9,325.3 C325.9,325.3 340,367.6 340,367.6 C340,367.6 346.1,390.7 351.8,410 C357.5,429.3 355.9,421.2 361.5,440 C367.1,458.8 366.1,457.1 372.9,480.6 C379.7,504.1 380.5,507 387.1,528.2 C393.7,549.4 393.1,546.2 397.6,560 C402.1,573.8 401.4,572.5 403.8,580 C406.2,587.5 404.6,583.2 406.7,588 C408.8,592.8 409,592.6 411.5,598 C414,603.4 414.3,603.1 416,608.4 C417.7,613.7 417.5,609.4 417.9,618 C418.3,626.6 416.4,631.4 417.6,640.5 C418.8,649.6 418.9,645.3 422.3,652.1 C425.7,658.9 427.8,659.2 430.5,666 C433.2,672.8 432.6,670.9 432.3,677.7 C432,684.5 431.3,685.7 429.3,691.6 C427.3,697.5 427.1,695.4 424.8,700 C422.5,704.6 422,704.7 420.7,708.7 C419.4,712.7 419.8,711.6 419.9,715 C420,718.4 419.4,717.8 421,721.5 C422.6,725.2 421.8,723.6 425.9,729 C430,734.4 430.7,735.1 436.2,741.8 C441.7,748.5 441.5,748.4 446.6,754.1 C451.7,759.8 451.3,759.5 455.3,763.3 C459.3,767.1 458.9,766.6 461.5,768.3 C464.1,770 464,769.2 464.9,769.5" fill="none" stroke="#ff0000" stroke-width="3" stroke-linejoin="round" stroke-linecap="round"/>
<path d="M172.8,74.1 C172.8,74.1 174.9,93.1 180.1,112.9 C185.3,132.7 185.4,131.6 192.4,148.2 C199.4,164.8 198.7,158.3 206.5,175.3 C214.3,192.3 213.7,195.5 221.8,211.8 C229.9,228.1 230.9,226.3 237,236.5 C243.1,246.7 240.9,243.7 244.7,250 C248.5,256.3 245.9,250.6 251.2,260 C256.5,269.4 256.1,267 264.7,285.3 C273.3,303.6 272.8,307.5 283.5,328.8 C294.2,350.1 294,348 304.7,365.3 C315.4,382.6 315,379.4 323.5,393.5 C332,407.6 330.8,405.8 336.5,418.2 C342.2,430.6 339.7,426.2 344.7,440 C349.7,453.8 349.2,453.5 355.3,470 C361.4,486.5 361,483.9 367.6,501.8 C374.2,519.7 374.8,521.5 380,537 C385.2,552.5 384.5,548.5 387.1,560 C389.7,571.5 388.5,569.1 389.8,580 C391.1,590.9 389.3,590.4 392.1,600.9 C394.9,611.4 395.6,609.3 400.2,619.5 C404.8,629.7 408,629.4 409.5,639.3 C411,649.2 407.2,644.6 406,656.7 C404.8,668.8 404.3,671.7 404.9,684.7 C405.5,697.7 406.4,696.3 408.4,705.6 C410.4,714.9 411.7,710.8 412.3,719.5 C412.9,728.2 412.1,728.2 410.7,738.1 C409.3,748 408.5,749.8 407.2,756.7 C405.9,763.6 406,761.1 405.8,764 C405.6,766.9 405.8,766.2 406.4,767.6 C407,769 407.6,768.8 408,769.2" fill="none" stroke="#0a64ff" stroke-width="3" stroke-linejoin="round" stroke-linecap="round"/>
<circle cx="464.9" cy="769.5" r="4" fill="#ff0000"/>
<circle cx="416" cy="769.5" r="4" fill="#0a64ff"/>
<line x1="57" y1="73" x2="57" y2="769.8" stroke="#18a818" stroke-width="2.2"/>
<polyline points="57,375.5 117.5,418.7 117,492.5 116.6,521 72.9,541 57,561" fill="none" stroke="#000" stroke-width="2"/>
<polyline points="57.4,704.3 78.1,711.2 57.4,717.6" fill="none" stroke="#000" stroke-width="2"/>
<line x1="713.4" y1="52" x2="713.4" y2="781" stroke="#555" stroke-width="1"/>
<line x1="804.2" y1="52" x2="804.2" y2="800" stroke="#000" stroke-width="2"/>
<g stroke="#000" stroke-width="1"><line x1="804" y1="781.4" x2="813.5" y2="781.4"/><line x1="804" y1="743.5" x2="813.5" y2="743.5"/><line x1="804" y1="705.1" x2="813.5" y2="705.1"/><line x1="804" y1="666.1" x2="813.5" y2="666.1"/><line x1="804" y1="626.5" x2="813.5" y2="626.5"/><line x1="804" y1="586.4" x2="813.5" y2="586.4"/><line x1="804" y1="545.7" x2="813.5" y2="545.7"/><line x1="804" y1="504.3" x2="813.5" y2="504.3"/><line x1="804" y1="462.3" x2="813.5" y2="462.3"/><line x1="804" y1="419.7" x2="813.5" y2="419.7"/><line x1="804" y1="376.4" x2="813.5" y2="376.4"/><line x1="804" y1="332.4" x2="813.5" y2="332.4"/><line x1="804" y1="287.7" x2="813.5" y2="287.7"/><line x1="804" y1="242.2" x2="813.5" y2="242.2"/><line x1="804" y1="196" x2="813.5" y2="196"/><line x1="804" y1="148.9" x2="813.5" y2="148.9"/><line x1="804" y1="101.1" x2="813.5" y2="101.1"/></g>
<g font-size="15.5" fill="#000" stroke="#000" stroke-width="0.35"><text x="825" y="786.9" textLength="8.6" lengthAdjust="spacingAndGlyphs">0</text><text x="825" y="749" textLength="8.6" lengthAdjust="spacingAndGlyphs">2</text><text x="825" y="710.6" textLength="8.6" lengthAdjust="spacingAndGlyphs">4</text><text x="825" y="671.6" textLength="8.6" lengthAdjust="spacingAndGlyphs">6</text><text x="825" y="632" textLength="8.6" lengthAdjust="spacingAndGlyphs">8</text><text x="825" y="591.9" textLength="18" lengthAdjust="spacingAndGlyphs">10</text><text x="825" y="551.2" textLength="18" lengthAdjust="spacingAndGlyphs">12</text><text x="825" y="509.8" textLength="18" lengthAdjust="spacingAndGlyphs">14</text><text x="825" y="467.8" textLength="18" lengthAdjust="spacingAndGlyphs">16</text><text x="825" y="425.2" textLength="18" lengthAdjust="spacingAndGlyphs">18</text><text x="825" y="381.9" textLength="18" lengthAdjust="spacingAndGlyphs">20</text><text x="825" y="337.9" textLength="18" lengthAdjust="spacingAndGlyphs">22</text><text x="825" y="293.2" textLength="18" lengthAdjust="spacingAndGlyphs">24</text><text x="825" y="247.7" textLength="18" lengthAdjust="spacingAndGlyphs">26</text><text x="825" y="201.5" textLength="18" lengthAdjust="spacingAndGlyphs">28</text><text x="825" y="154.4" textLength="18" lengthAdjust="spacingAndGlyphs">30</text><text x="825" y="106.6" textLength="18" lengthAdjust="spacingAndGlyphs">32</text></g>
<polyline points="798.7,74 824.5,113.1 830.8,150.8 823.8,192.7 817.5,217.1 803.5,259 794.1,290.4 784.7,328.9 782.6,360.3 782.6,374.9 782.6,444.7 779.4,480 777.2,498.6 773.5,522.8 767.9,543.2 760.4,560 764.2,574.8 774.4,599 782,610 789.3,621.3 795.8,640 802.8,653.5 809.8,669.8 814.4,683.7 814.9,690.7 809.8,700 800.5,704.7 784.2,711.6 772.6,717.4 768.4,725.6 768.4,751.2 765.6,764 758.6,767.4 747,769.3" fill="none" stroke="#2cb52c" stroke-width="1.3" stroke-linejoin="round"/>
<g stroke="#000" stroke-width="1.3" fill="#000" stroke-linecap="round"><line x1="713.4" y1="74" x2="693.9" y2="49.9"/><line x1="693.9" y1="49.9" x2="698.5" y2="40.5"/><line x1="695.9" y1="52.4" x2="700.5" y2="43"/><line x1="698" y1="55" x2="702.6" y2="45.5"/><line x1="700" y1="57.5" x2="704.6" y2="48"/><line x1="713.4" y1="113.8" x2="692.2" y2="84.7"/><line x1="713.4" y1="150.3" x2="694.9" y2="119.4"/><line x1="713.4" y1="184.1" x2="698.2" y2="151.5"/><line x1="713.4" y1="214.3" x2="701.3" y2="185.8"/><line x1="701.3" y1="185.8" x2="708.3" y2="178"/><line x1="702.6" y1="188.8" x2="709.6" y2="181"/><line x1="703.8" y1="191.7" x2="710.9" y2="183.9"/><line x1="705.1" y1="194.7" x2="712.1" y2="186.9"/><line x1="706.4" y1="197.7" x2="710" y2="193.6"/><line x1="713.4" y1="247.3" x2="702.1" y2="218.4"/><line x1="702.1" y1="218.4" x2="709.3" y2="210.8"/><line x1="703.3" y1="221.5" x2="710.5" y2="213.9"/><line x1="704.5" y1="224.5" x2="711.7" y2="216.9"/><line x1="705.6" y1="227.5" x2="712.9" y2="219.9"/><line x1="713.4" y1="286.3" x2="702.1" y2="257.4"/><line x1="702.1" y1="257.4" x2="709.3" y2="249.8"/><line x1="703.3" y1="260.5" x2="710.5" y2="252.9"/><line x1="704.5" y1="263.5" x2="711.7" y2="255.9"/><line x1="705.6" y1="266.5" x2="709.4" y2="262.5"/><line x1="713.4" y1="329.8" x2="701.3" y2="301.3"/><line x1="701.3" y1="301.3" x2="708.3" y2="293.5"/><line x1="702.6" y1="304.3" x2="709.6" y2="296.5"/><line x1="703.8" y1="307.2" x2="710.9" y2="299.4"/><line x1="713.4" y1="374.5" x2="698" y2="347.6"/><line x1="698" y1="347.6" x2="704.1" y2="339"/><line x1="699.7" y1="350.4" x2="705.7" y2="341.8"/><line x1="701.3" y1="353.2" x2="707.3" y2="344.6"/><line x1="713.4" y1="419.2" x2="696.7" y2="393.1"/><line x1="696.7" y1="393.1" x2="702.4" y2="384.2"/><line x1="698.5" y1="395.8" x2="704.1" y2="386.9"/><line x1="700.2" y1="398.5" x2="705.9" y2="389.7"/><line x1="713.4" y1="457" x2="700.3" y2="428.9"/><line x1="700.3" y1="428.9" x2="707" y2="420.9"/><line x1="701.7" y1="431.8" x2="708.4" y2="423.8"/><line x1="703" y1="434.8" x2="709.8" y2="426.8"/><line x1="713.4" y1="488" x2="708" y2="457.5"/><line x1="708" y1="457.5" x2="716.6" y2="451.4"/><line x1="708.6" y1="460.7" x2="717.2" y2="454.6"/><line x1="709.1" y1="463.9" x2="717.7" y2="457.8"/><line x1="713.4" y1="522" x2="705.2" y2="492.1"/><line x1="705.2" y1="492.1" x2="713.2" y2="485.3"/><line x1="706" y1="495.2" x2="714" y2="488.4"/><line x1="706.9" y1="498.4" x2="711.1" y2="494.8"/><line x1="713.4" y1="539" x2="705.6" y2="509"/><line x1="705.6" y1="509" x2="713.7" y2="502.3"/><line x1="706.4" y1="512.1" x2="714.5" y2="505.5"/><line x1="707.3" y1="515.3" x2="711.5" y2="511.8"/><line x1="713.4" y1="553.3" x2="706.5" y2="523.1"/><line x1="706.5" y1="523.1" x2="714.8" y2="516.6"/><line x1="707.2" y1="526.2" x2="715.5" y2="519.8"/><line x1="713.4" y1="566.7" x2="706.1" y2="536.6"/><line x1="706.1" y1="536.6" x2="714.3" y2="530.1"/><line x1="706.9" y1="539.8" x2="715.1" y2="533.2"/><line x1="713.4" y1="579.4" x2="704.3" y2="549.8"/><line x1="704.3" y1="549.8" x2="712.1" y2="542.8"/><line x1="705.2" y1="552.9" x2="713" y2="545.9"/><line x1="706.2" y1="556" x2="710.3" y2="552.3"/><line x1="713.4" y1="591.4" x2="702.4" y2="562.5"/><line x1="702.4" y1="562.5" x2="709.7" y2="554.9"/><line x1="703.5" y1="565.5" x2="710.8" y2="558"/><line x1="704.7" y1="568.6" x2="708.5" y2="564.6"/><line x1="713.4" y1="602.8" x2="699" y2="575.3"/><line x1="699" y1="575.3" x2="705.4" y2="567"/><line x1="700.5" y1="578.2" x2="706.9" y2="569.8"/><line x1="702" y1="581.1" x2="708.4" y2="572.7"/><line x1="713.4" y1="613.5" x2="696.1" y2="587.7"/><line x1="696.1" y1="587.7" x2="701.6" y2="578.7"/><line x1="697.9" y1="590.4" x2="703.4" y2="581.4"/><line x1="699.8" y1="593.1" x2="705.2" y2="584.1"/><line x1="713.4" y1="623.5" x2="693.8" y2="599.5"/><line x1="693.8" y1="599.5" x2="698.4" y2="590.1"/><line x1="695.9" y1="602" x2="700.4" y2="592.6"/><line x1="697.9" y1="604.6" x2="702.5" y2="595.1"/><line x1="700" y1="607.1" x2="702.4" y2="602.1"/><line x1="713.4" y1="632.9" x2="692.6" y2="609.9"/><line x1="692.6" y1="609.9" x2="696.7" y2="600.3"/><line x1="694.8" y1="612.3" x2="698.9" y2="602.7"/><line x1="697" y1="614.7" x2="701.1" y2="605.1"/><line x1="699.1" y1="617.2" x2="701.3" y2="612.1"/><line x1="713.4" y1="641.6" x2="691.9" y2="619.3"/><line x1="691.9" y1="619.3" x2="695.6" y2="609.5"/><line x1="694.1" y1="621.7" x2="697.9" y2="611.9"/><line x1="696.4" y1="624" x2="700.1" y2="614.2"/><line x1="698.6" y1="626.3" x2="700.6" y2="621.2"/><line x1="713.4" y1="649.7" x2="691.9" y2="627.4"/><line x1="691.9" y1="627.4" x2="695.6" y2="617.6"/><line x1="694.1" y1="629.7" x2="697.9" y2="619.9"/><line x1="696.4" y1="632.1" x2="700.1" y2="622.3"/><line x1="698.6" y1="634.4" x2="702.4" y2="624.6"/><line x1="713.4" y1="657.2" x2="691.9" y2="634.9"/><line x1="691.9" y1="634.9" x2="695.6" y2="625.1"/><line x1="694.1" y1="637.2" x2="697.9" y2="627.4"/><line x1="696.4" y1="639.5" x2="700.1" y2="629.7"/><line x1="698.6" y1="641.9" x2="702.4" y2="632.1"/><line x1="713.4" y1="664.1" x2="691.9" y2="641.8"/><line x1="691.9" y1="641.8" x2="695.6" y2="632"/><line x1="694.1" y1="644.1" x2="697.9" y2="634.3"/><line x1="696.4" y1="646.5" x2="700.1" y2="636.7"/><line x1="698.6" y1="648.8" x2="702.4" y2="639"/><line x1="713.4" y1="670.5" x2="691.9" y2="648.2"/><line x1="691.9" y1="648.2" x2="695.6" y2="638.4"/><line x1="694.1" y1="650.6" x2="697.9" y2="640.8"/><line x1="696.4" y1="652.9" x2="700.1" y2="643.1"/><line x1="698.6" y1="655.2" x2="702.4" y2="645.4"/><line x1="700.9" y1="657.6" x2="702.9" y2="652.4"/><line x1="713.4" y1="676.5" x2="692.9" y2="653.2"/><line x1="692.9" y1="653.2" x2="697.1" y2="643.6"/><line x1="695.1" y1="655.7" x2="699.3" y2="646"/><line x1="697.2" y1="658.1" x2="701.4" y2="648.5"/><line x1="699.4" y1="660.5" x2="703.6" y2="650.9"/><line x1="701.5" y1="663" x2="703.7" y2="657.9"/><line x1="713.4" y1="682" x2="694.2" y2="657.6"/><line x1="694.2" y1="657.6" x2="699.1" y2="648.1"/><line x1="696.2" y1="660.2" x2="701.1" y2="650.6"/><line x1="698.3" y1="662.7" x2="703.1" y2="653.2"/><line x1="700.3" y1="665.3" x2="705.1" y2="655.7"/><line x1="702.3" y1="667.8" x2="704.8" y2="662.9"/><line x1="713.4" y1="687" x2="695.5" y2="661.7"/><line x1="695.5" y1="661.7" x2="701.1" y2="652"/><line x1="697.4" y1="664.3" x2="702.9" y2="654.6"/><line x1="699.3" y1="667" x2="704.8" y2="657.3"/><line x1="701.1" y1="669.7" x2="706.7" y2="659.9"/><line x1="703" y1="672.3" x2="705.7" y2="667.5"/><line x1="713.4" y1="691.6" x2="696.7" y2="665.5"/><line x1="696.7" y1="665.5" x2="703.4" y2="656"/><line x1="698.5" y1="668.3" x2="705.2" y2="658.7"/><line x1="700.2" y1="671" x2="706.9" y2="661.5"/><line x1="702" y1="673.7" x2="708.7" y2="664.2"/><line x1="703.7" y1="676.5" x2="706.9" y2="672"/><line x1="713.4" y1="695.9" x2="697.9" y2="669.1"/><line x1="697.9" y1="669.1" x2="706.3" y2="660.4"/><line x1="699.5" y1="671.9" x2="707.9" y2="663.2"/><line x1="701.1" y1="674.7" x2="709.5" y2="666"/><line x1="702.8" y1="677.5" x2="711.1" y2="668.8"/><line x1="704.4" y1="680.3" x2="708.2" y2="676.4"/><line x1="713.4" y1="699.8" x2="699.9" y2="671.9"/><line x1="699.9" y1="671.9" x2="709.8" y2="664.2"/><line x1="701.4" y1="674.8" x2="711.2" y2="667.2"/><line x1="702.8" y1="677.8" x2="712.6" y2="670.1"/><line x1="704.2" y1="680.7" x2="714" y2="673"/><line x1="705.6" y1="683.6" x2="709.9" y2="680.2"/><line x1="713.4" y1="703.5" x2="701.9" y2="674.7"/><line x1="701.9" y1="674.7" x2="712.6" y2="668.1"/><line x1="703.1" y1="677.7" x2="713.8" y2="671.1"/><line x1="704.3" y1="680.7" x2="715" y2="674.1"/><line x1="705.5" y1="683.7" x2="716.2" y2="677.2"/><line x1="713.4" y1="707.1" x2="704.1" y2="677.5"/><line x1="704.1" y1="677.5" x2="715.2" y2="671.9"/><line x1="705" y1="680.6" x2="716.2" y2="675"/><line x1="706" y1="683.7" x2="717.2" y2="678.1"/><line x1="707" y1="686.8" x2="711.9" y2="684.3"/><line x1="713.4" y1="710.7" x2="706.3" y2="680.5"/><line x1="706.3" y1="680.5" x2="717.8" y2="675.6"/><line x1="707.1" y1="683.6" x2="718.6" y2="678.8"/><line x1="707.8" y1="686.8" x2="719.3" y2="681.9"/><line x1="713.4" y1="714.3" x2="708.6" y2="683.6"/><line x1="708.6" y1="683.6" x2="720.2" y2="678.9"/><line x1="709.1" y1="686.8" x2="720.7" y2="682.2"/><line x1="709.6" y1="690" x2="721.2" y2="685.4"/><line x1="713.4" y1="717.9" x2="710.3" y2="687"/><line x1="710.3" y1="687" x2="721.9" y2="682.3"/><line x1="710.6" y1="690.2" x2="722.2" y2="685.6"/><line x1="711" y1="693.5" x2="716.1" y2="691.4"/><line x1="713.4" y1="721.5" x2="711.9" y2="690.5"/><line x1="711.9" y1="690.5" x2="723.5" y2="685.8"/><line x1="712" y1="693.7" x2="723.6" y2="689.1"/><line x1="712.2" y1="697" x2="717.3" y2="694.9"/><line x1="713.4" y1="725.1" x2="713.4" y2="694.1"/><line x1="713.4" y1="694.1" x2="725" y2="689.4"/><line x1="713.4" y1="697.3" x2="725" y2="692.6"/><line x1="713.4" y1="700.6" x2="718.5" y2="698.5"/><line x1="713.4" y1="728.7" x2="714.1" y2="697.7"/><line x1="714.1" y1="697.7" x2="725.6" y2="693"/><line x1="714" y1="700.9" x2="725.6" y2="696.2"/><line x1="713.9" y1="704.2" x2="719" y2="702.1"/><line x1="713.4" y1="732.3" x2="714.7" y2="701.3"/><line x1="714.7" y1="701.3" x2="726.3" y2="696.6"/><line x1="714.6" y1="704.5" x2="726.2" y2="699.8"/><line x1="714.4" y1="707.8" x2="719.5" y2="705.7"/><line x1="713.4" y1="735.9" x2="715.4" y2="704.9"/><line x1="715.4" y1="704.9" x2="726.9" y2="700.2"/><line x1="715.2" y1="708.2" x2="726.7" y2="703.5"/><line x1="714.9" y1="711.4" x2="720" y2="709.3"/><line x1="713.4" y1="739.5" x2="716" y2="708.6"/><line x1="716" y1="708.6" x2="727.6" y2="703.9"/><line x1="715.7" y1="711.8" x2="727.3" y2="707.1"/><line x1="715.5" y1="715" x2="720.6" y2="713"/><line x1="713.4" y1="743.1" x2="716.4" y2="712.2"/><line x1="716.4" y1="712.2" x2="728" y2="707.5"/><line x1="716.1" y1="715.4" x2="727.7" y2="710.8"/><line x1="715.8" y1="718.7" x2="720.9" y2="716.6"/><line x1="713.4" y1="746.7" x2="716.8" y2="715.8"/><line x1="716.8" y1="715.8" x2="728.4" y2="711.2"/><line x1="716.5" y1="719.1" x2="728" y2="714.4"/><line x1="716.1" y1="722.3" x2="721.2" y2="720.2"/><line x1="713.4" y1="750.3" x2="717.2" y2="719.5"/><line x1="717.2" y1="719.5" x2="728.8" y2="714.8"/><line x1="716.8" y1="722.7" x2="728.4" y2="718"/><line x1="716.4" y1="725.9" x2="721.5" y2="723.9"/><line x1="713.4" y1="753.9" x2="717.6" y2="723.1"/><line x1="717.6" y1="723.1" x2="729.2" y2="718.5"/><line x1="717.2" y1="726.4" x2="728.7" y2="721.7"/><line x1="716.7" y1="729.6" x2="721.8" y2="727.5"/><line x1="713.4" y1="757.5" x2="717.9" y2="726.8"/><line x1="717.9" y1="726.8" x2="729.5" y2="722.1"/><line x1="717.4" y1="730" x2="729" y2="725.3"/><line x1="716.9" y1="733.2" x2="722" y2="731.2"/><line x1="713.4" y1="761.1" x2="718.1" y2="730.4"/><line x1="718.1" y1="730.4" x2="729.7" y2="725.7"/><line x1="717.6" y1="733.6" x2="729.2" y2="728.9"/><line x1="717.2" y1="736.8" x2="722.3" y2="734.8"/><line x1="713.4" y1="764.7" x2="718.4" y2="734.1"/><line x1="718.4" y1="734.1" x2="730" y2="729.4"/><line x1="717.9" y1="737.3" x2="729.5" y2="732.6"/><line x1="713.4" y1="768.3" x2="718.7" y2="737.7"/><line x1="718.7" y1="737.7" x2="730.2" y2="733"/><line x1="718.1" y1="740.9" x2="729.7" y2="736.2"/><polygon points="692.2,84.7 699.9,79.1 695.2,88.7"/><polygon points="694.9,119.4 703,114.5 697.4,123.7"/><polygon points="698.2,151.5 706.8,147.5 700.3,156"/></g>
<circle cx="39" cy="21.4" r="4.2" fill="#000"/>
<g fill="#000" stroke="#000" stroke-width="0.35"><text x="49.6" y="29.2" font-size="20.5" textLength="107.4" lengthAdjust="spacingAndGlyphs">Waipukurau</text><text x="164.2" y="26.8" font-size="13" textLength="147" lengthAdjust="spacingAndGlyphs">-39.996&#176;,176.537&#176; (78,63)</text><text x="328.9" y="29.2" font-size="20.5" textLength="153.2" lengthAdjust="spacingAndGlyphs">Valid 1200 NZDT</text><text x="492.2" y="27.6" font-size="14.5" textLength="52.7" lengthAdjust="spacingAndGlyphs">(2300Z)</text><text x="552.8" y="29.2" font-size="20.5" textLength="142.2" lengthAdjust="spacingAndGlyphs">FRI 8 Aug 2025</text><text x="701.2" y="27.4" font-size="14.5" textLength="125.2" lengthAdjust="spacingAndGlyphs">[11hrFcst@1600z]</text><text x="290.3" y="48.8" font-size="13.3" textLength="282.4" lengthAdjust="spacingAndGlyphs" fill="#aa0035" stroke="#aa0035">Plcl=897 Tlcl[C]=6 Shox=3 Pwat[cm]=2 Cape[J]= 17</text><text x="17.1" y="58.6" font-size="17.5" textLength="27.5" lengthAdjust="spacingAndGlyphs">250</text><text x="17.1" y="153.7" font-size="17.5" textLength="27.5" lengthAdjust="spacingAndGlyphs">300</text><text x="17.1" y="303.5" font-size="17.5" textLength="27.5" lengthAdjust="spacingAndGlyphs">400</text><text x="17.1" y="419.8" font-size="17.5" textLength="27.5" lengthAdjust="spacingAndGlyphs">500</text><text x="17.1" y="595.1" font-size="17.5" textLength="27.5" lengthAdjust="spacingAndGlyphs">700</text><text x="17.1" y="696.2" font-size="17.5" textLength="27.5" lengthAdjust="spacingAndGlyphs">850</text><text x="8.9" y="780.9" font-size="17.5" textLength="35.7" lengthAdjust="spacingAndGlyphs">1000</text><text x="48.1" y="49.5" font-size="13.3" textLength="16.6" lengthAdjust="spacingAndGlyphs" fill="#14b814" stroke="#14b814">0.0</text><text x="48.1" y="64.3" font-size="13.3" textLength="16.6" lengthAdjust="spacingAndGlyphs">0.0</text><text x="48.1" y="798.5" font-size="13.3" textLength="16.6" lengthAdjust="spacingAndGlyphs" fill="#14b814" stroke="#14b814">0.0</text><text x="48.1" y="812" font-size="13.3" textLength="16.6" lengthAdjust="spacingAndGlyphs">0.0</text><text x="79.2" y="49.5" font-size="13.3" textLength="16.6" lengthAdjust="spacingAndGlyphs" fill="#14b814" stroke="#14b814">0.5</text><text x="79.2" y="64.3" font-size="13.3" textLength="16.6" lengthAdjust="spacingAndGlyphs">0.5</text><text x="79.2" y="798.5" font-size="13.3" textLength="16.6" lengthAdjust="spacingAndGlyphs" fill="#14b814" stroke="#14b814">0.5</text><text x="79.2" y="812" font-size="13.3" textLength="16.6" lengthAdjust="spacingAndGlyphs">0.5</text><text x="109.8" y="49.5" font-size="13.3" textLength="16.6" lengthAdjust="spacingAndGlyphs" fill="#14b814" stroke="#14b814">1.0</text><text x="109.8" y="64.3" font-size="13.3" textLength="16.6" lengthAdjust="spacingAndGlyphs">1.0</text><text x="109.8" y="798.5" font-size="13.3" textLength="16.6" lengthAdjust="spacingAndGlyphs" fill="#14b814" stroke="#14b814">1.0</text><text x="109.8" y="812" font-size="13.3" textLength="16.6" lengthAdjust="spacingAndGlyphs">1.0</text><text x="133.3" y="798.5" font-size="13.3" textLength="101.5" lengthAdjust="spacingAndGlyphs" fill="#14b814" stroke="#14b814">CloudWater (g/Kg)</text><text x="133.3" y="812" font-size="13.3" textLength="121.8" lengthAdjust="spacingAndGlyphs">Grid-Scale Cloudiness</text><text x="74.9" y="833.8" font-size="17.5" textLength="23.2" lengthAdjust="spacingAndGlyphs">-30</text><text x="157.2" y="833.8" font-size="17.5" textLength="23.2" lengthAdjust="spacingAndGlyphs">-20</text><text x="239.6" y="833.8" font-size="17.5" textLength="23.2" lengthAdjust="spacingAndGlyphs">-10</text><text x="329.2" y="833.8" font-size="17.5" textLength="8.6" lengthAdjust="spacingAndGlyphs">0</text><text x="407.2" y="833.8" font-size="17.5" textLength="17.2" lengthAdjust="spacingAndGlyphs">10</text><text x="489.6" y="833.8" font-size="17.5" textLength="17.2" lengthAdjust="spacingAndGlyphs">20</text><text x="571.9" y="833.8" font-size="17.5" textLength="17.2" lengthAdjust="spacingAndGlyphs">30</text><text x="654.3" y="833.8" font-size="17.5" textLength="17.2" lengthAdjust="spacingAndGlyphs">40</text><text x="374.9" y="854.4" font-size="15.8" textLength="110.8" lengthAdjust="spacingAndGlyphs">Temperature (C)</text><text transform="translate(14.9,444) rotate(-90)" font-size="16" text-anchor="middle" textLength="50.8" lengthAdjust="spacingAndGlyphs">P (hPa)</text><text transform="translate(774,425.8) rotate(90)" font-size="17.8" text-anchor="middle" textLength="140" lengthAdjust="spacingAndGlyphs">Height (1000 Feet)</text><text x="713.2" y="65.5" font-size="12" text-anchor="middle" fill="#14b814" stroke="#14b814" font-weight="bold">0</text><text x="713.2" y="799.7" font-size="12" text-anchor="middle" fill="#14b814" stroke="#14b814" font-weight="bold">0</text><text x="758.5" y="65.5" font-size="12" text-anchor="middle" fill="#14b814" stroke="#14b814" font-weight="bold">20</text><text x="758.5" y="799.7" font-size="12" text-anchor="middle" fill="#14b814" stroke="#14b814" font-weight="bold">20</text><text x="804.4" y="65.5" font-size="12" text-anchor="middle" fill="#14b814" stroke="#14b814" font-weight="bold">40</text><text x="804.4" y="799.7" font-size="12" text-anchor="middle" fill="#14b814" stroke="#14b814" font-weight="bold">40</text><text x="849.8" y="65.5" font-size="12" text-anchor="middle" fill="#14b814" stroke="#14b814" font-weight="bold">60</text><text x="849.8" y="799.7" font-size="12" text-anchor="middle" fill="#14b814" stroke="#14b814" font-weight="bold">60</text><text x="732.2" y="813.2" font-size="12.2" textLength="56.2" lengthAdjust="spacingAndGlyphs" fill="#14b814" stroke="#14b814">Speed (kt)</text></g>
</svg></body></html>
